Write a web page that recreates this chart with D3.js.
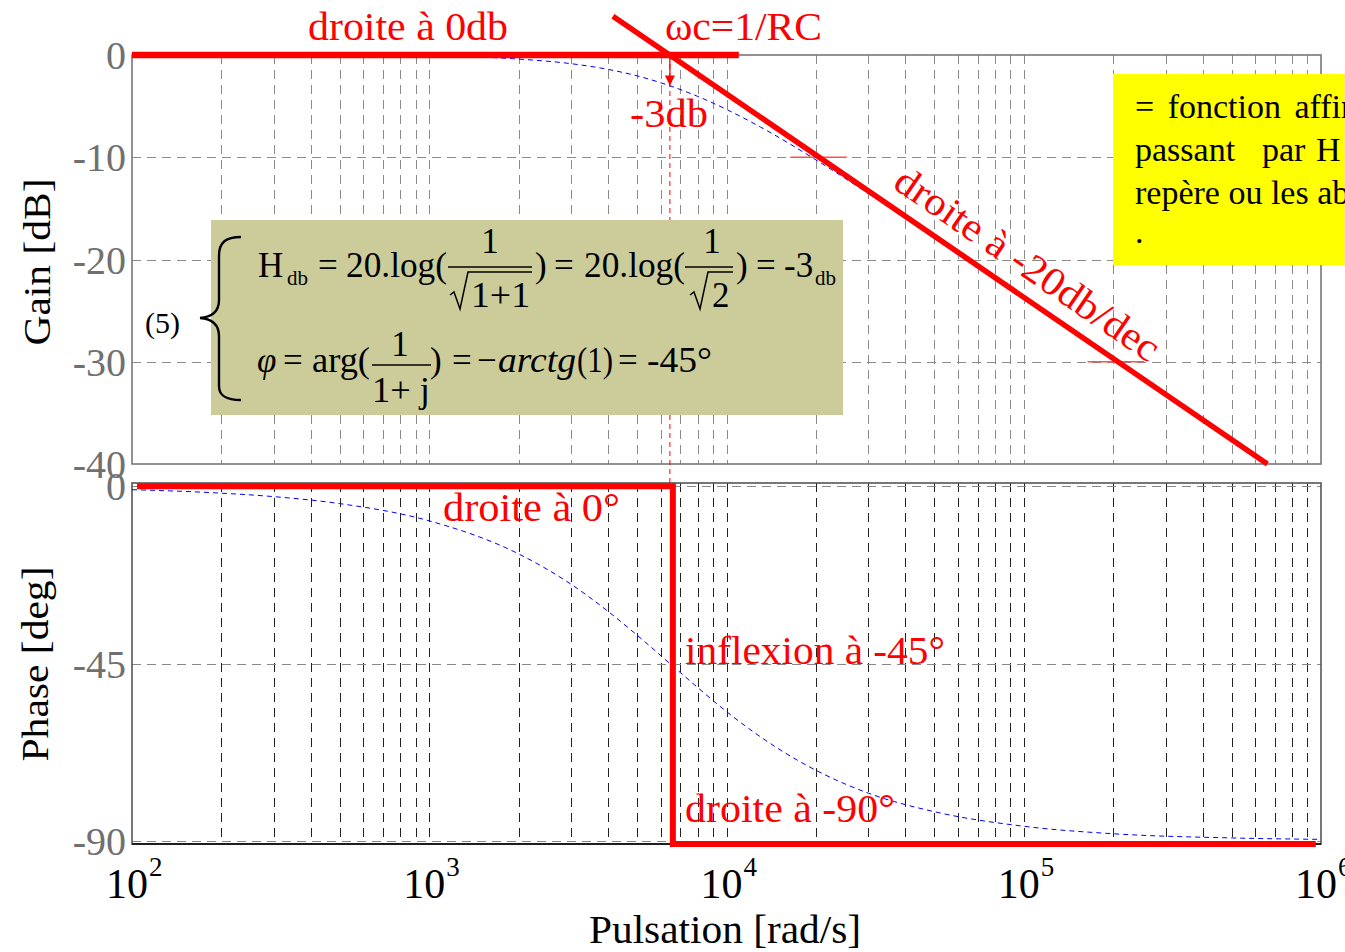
<!DOCTYPE html>
<html><head><meta charset="utf-8">
<script src="https://cdn.jsdelivr.net/npm/d3@7"></script>
<style>body{margin:0;background:#fff;overflow:hidden} svg{display:block} text{font-family:"Liberation Serif","Times New Roman",serif}</style>
</head><body><svg id="c" width="1345" height="952"></svg>
<script>
// ---------- data ----------
const wc = 6450;
const xDecades = [100, 1000, 10000, 100000, 1000000];
const xTickExponents = ["2", "3", "4", "5", "6"];
const gainTicks = [0, -10, -20, -30, -40];
const phaseTicks = [0, -45, -90];
const gainAsym0 = [[100, 0], [11000, 0]];
const gainAsym20 = [[4150, 3.8], [660000, -40]];
const phaseAsym = [[104, 0], [6600, 0], [6600, -90.8], [960000, -90.8]];
const gainCurveW  = [100, 1000, 2000, 3000, 4000, 5000, 6450, 8000, 10000, 13000, 16000, 20000, 30000, 50000, 100000, 200000, 500000, 640000];
const gainCurveDb = [0, -0.1, -0.4, -0.85, -1.41, -2.04, -3.01, -4.05, -5.32, -7.04, -8.54, -10.26, -13.54, -17.86, -23.83, -29.83, -37.79, -39.93];
const phaseCurveW   = [100, 200, 300, 500, 1000, 2000, 3000, 4000, 5000, 6450, 8000, 10000, 15000, 20000, 30000, 50000, 100000, 200000, 500000, 1000000];
const phaseCurveDeg = [-0.89, -1.78, -2.66, -4.43, -8.81, -17.2, -24.9, -31.8, -37.8, -45, -51.1, -57.2, -66.7, -72.1, -77.9, -82.6, -86.3, -88.2, -89.26, -89.63];
const markerW1 = [16400, 164000];
const markerW2 = [25400, 254000];
const markerDb = [-10, -30];

// ---------- scales ----------
const svg = d3.select("#c");
const x = d3.scaleLog().domain([100, 1e6]).range([132, 1321]);
const gy = d3.scaleLinear().domain([0, -40]).range([55, 464]);
const py = d3.scaleLinear().domain([0.8, -90.8]).range([483, 844]);
const crisp = v => Math.round(v) + 0.5;

const gridW = [];
xDecades.slice(0, 4).forEach(d => { for (let k = 1; k < 10; k++) gridW.push(d * k); });
const innerW = gridW.filter(w => w > 100);

// ---------- grids ----------
const g = svg.append("g");
g.selectAll(".gv").data(innerW).enter().append("line")
  .attr("x1", d => crisp(x(d))).attr("x2", d => crisp(x(d))).attr("y1", gy(0)).attr("y2", gy(-40))
  .attr("stroke", "#8a8a8a").attr("stroke-width", 1).attr("stroke-dasharray", "9,6");
g.selectAll(".gh").data(gainTicks.slice(1, 4)).enter().append("line")
  .attr("x1", x(100)).attr("x2", x(1e6)).attr("y1", d => crisp(gy(d))).attr("y2", d => crisp(gy(d)))
  .attr("stroke", "#8a8a8a").attr("stroke-width", 1).attr("stroke-dasharray", "9,6");
g.selectAll(".pv").data(innerW).enter().append("line")
  .attr("x1", d => crisp(x(d))).attr("x2", d => crisp(x(d))).attr("y1", py(0.8)).attr("y2", py(-90.8))
  .attr("stroke", "#222").attr("stroke-width", 1).attr("stroke-dasharray", "9,6");
g.selectAll(".ph").data(phaseTicks).enter().append("line")
  .attr("x1", x(100)).attr("x2", x(1e6)).attr("y1", d => crisp(py(d))).attr("y2", d => crisp(py(d)))
  .attr("stroke", "#888").attr("stroke-width", 1).attr("stroke-dasharray", "9,6");

// frames
svg.append("rect").attr("x", x(100)).attr("y", gy(0)).attr("width", x(1e6) - x(100)).attr("height", gy(-40) - gy(0))
  .attr("fill", "none").attr("stroke", "#777").attr("stroke-width", 1.6);
svg.append("rect").attr("x", x(100)).attr("y", py(0.8)).attr("width", x(1e6) - x(100)).attr("height", py(-90.8) - py(0.8))
  .attr("fill", "none").attr("stroke", "#555").attr("stroke-width", 1.6);
svg.append("line").attr("x1", x(100)).attr("x2", x(1e6)).attr("y1", py(-90.8)).attr("y2", py(-90.8)).attr("stroke", "#000").attr("stroke-width", 1.6);

// red dashed vertical at wc
svg.append("line").attr("x1", x(wc)).attr("x2", x(wc)).attr("y1", gy(0)).attr("y2", py(0.8))
  .attr("stroke", "red").attr("stroke-width", 1).attr("stroke-dasharray", "5,4");
svg.append("line").attr("x1", x(wc)).attr("x2", x(wc)).attr("y1", gy(0)).attr("y2", gy(-2.1))
  .attr("stroke", "red").attr("stroke-width", 1.3);
svg.append("path").attr("d", `M${x(wc) - 5},${gy(-2.0)} L${x(wc) + 5},${gy(-2.0)} L${x(wc)},${gy(-3)} Z`).attr("fill", "red");

// small red markers
markerDb.forEach((db, i) => {
  svg.append("line").attr("x1", x(markerW1[i])).attr("x2", x(markerW2[i])).attr("y1", gy(db)).attr("y2", gy(db))
    .attr("stroke", "#ff5050").attr("stroke-width", 1.5);
});

// ---------- equation box ----------
const eq = svg.append("g");
eq.append("rect").attr("x", 211).attr("y", 220).attr("width", 632).attr("height", 195).attr("fill", "#cccc9a");
eq.append("text").attr("x", 145).attr("y", 333).attr("font-size", 30).text("(5)");
eq.append("path").attr("d", "M241,237 C226,237 219,242 219,256 L219,300 C219,312 212,317 200,318 C212,319 219,324 219,336 L219,386 C219,396 226,400 241,400")
  .attr("fill", "none").attr("stroke", "#000").attr("stroke-width", 2.4);
function t(xp, yp, s, size, opts) {
  const e = eq.append("text").attr("x", xp).attr("y", yp).attr("font-size", size).text(s);
  if (opts && opts.len) e.attr("textLength", opts.len).attr("lengthAdjust", "spacingAndGlyphs");
  if (opts && opts.anchor) e.attr("text-anchor", opts.anchor);
  if (opts && opts.italic) e.attr("font-style", "italic");
  return e;
}
function ln(x1, y1, x2, y2) { eq.append("line").attr("x1", x1).attr("x2", x2).attr("y1", y1).attr("y2", y2).attr("stroke", "#000").attr("stroke-width", 1.5); }
function rad(x0, x1, yTop, yBot) {
  eq.append("path").attr("d", `M${x0},${yBot - 14} L${x0 + 4},${yBot - 17} L${x0 + 10},${yBot} L${x0 + 18},${yTop} L${x1},${yTop}`)
    .attr("fill", "none").attr("stroke", "#000").attr("stroke-width", 1.5);
}
const F = 35, S = 21;
// line 1
t(258, 277, "H", F);
t(287, 285, "db", S);
t(318, 277, "=", F);
t(346, 277, "20.log(", F, {len: 101});
t(490, 253, "1", F, {anchor: "middle"});
ln(448, 267, 532, 267);
rad(450, 532, 272, 309);
t(471, 307, "1+1", F, {len: 59});
t(535, 277, ")", F);
t(554, 277, "=", F);
t(584, 277, "20.log(", F, {len: 101});
t(712, 253, "1", F, {anchor: "middle"});
ln(685, 267, 733, 267);
rad(690, 733, 272, 309);
t(712, 307, "2", F);
t(736, 277, ")", F);
t(756, 277, "=", F);
t(784, 277, "-3", F);
t(815, 285, "db", S);
// line 2
t(257, 372, "φ", F, {italic: true});
t(283, 372, "=", F);
t(312, 372, "arg(", F, {len: 58});
t(400, 356, "1", F, {anchor: "middle"});
ln(372, 365, 431, 365);
t(372, 402, "1+ j", F, {len: 58});
t(430, 372, ")", F);
t(452, 372, "=", F);
t(477, 372, "−", F);
t(498, 372, "arctg", F, {italic: true, len: 78});
t(577, 372, "(1)", F, {len: 36});
t(618, 372, "=", F);
t(647, 372, "-45°", F, {len: 65});

// ---------- yellow box ----------
svg.append("rect").attr("x", 1113).attr("y", 74).attr("width", 240).attr("height", 191).attr("fill", "#ffff00");
const yellowLines = [["= fonction affine", 1135, 118, 5], ["passant", 1135, 161, 0], ["par", 1262, 161, 0], ["H", 1316, 161, 0], ["repère ou les ab", 1135, 204, 0], [".", 1135, 243, 0]];
yellowLines.forEach(d => svg.append("text").attr("x", d[1]).attr("y", d[2]).attr("font-size", 34).attr("word-spacing", d[3]).text(d[0]));

// ---------- curves ----------
const lineG = d3.line().x(d => x(d[0])).y(d => gy(d[1])).curve(d3.curveMonotoneX);
const lineP = d3.line().x(d => x(d[0])).y(d => py(d[1])).curve(d3.curveMonotoneX);
svg.append("path").attr("d", lineG(gainCurveW.map((w, i) => [w, gainCurveDb[i]])))
  .attr("fill", "none").attr("stroke", "#0000ff").attr("stroke-width", 1).attr("stroke-dasharray", "5,4");
svg.append("path").attr("d", lineP(phaseCurveW.map((w, i) => [w, phaseCurveDeg[i]])))
  .attr("fill", "none").attr("stroke", "#0000ff").attr("stroke-width", 1).attr("stroke-dasharray", "5,4");

const lineGs = d3.line().x(d => x(d[0])).y(d => gy(d[1]));
const linePs = d3.line().x(d => x(d[0])).y(d => py(d[1]));
svg.append("path").attr("d", lineGs(gainAsym0)).attr("fill", "none").attr("stroke", "red").attr("stroke-width", 6.5);
svg.append("path").attr("d", lineGs(gainAsym20)).attr("fill", "none").attr("stroke", "red").attr("stroke-width", 5.5);
svg.append("path").attr("d", linePs(phaseAsym)).attr("fill", "none").attr("stroke", "red").attr("stroke-width", 6);

// ---------- axes labels ----------
svg.selectAll(".gt").data(gainTicks).enter().append("text")
  .attr("x", 126).attr("y", d => gy(d) + 14).attr("text-anchor", "end").attr("font-size", 40).attr("fill", "#707070").text(d => d);
svg.selectAll(".pt").data(phaseTicks).enter().append("text")
  .attr("x", 126).attr("y", d => py(d) + 14).attr("text-anchor", "end").attr("font-size", 40).attr("fill", "#707070").text(d => d);
xDecades.forEach((d, i) => {
  svg.append("text").attr("x", x(d) + 16).attr("y", 898).attr("text-anchor", "end").attr("font-size", 42).text("10");
  svg.append("text").attr("x", x(d) + 17).attr("y", 876).attr("font-size", 27).text(xTickExponents[i]);
});
svg.append("text").attr("transform", "translate(50,262) rotate(-90)").attr("text-anchor", "middle").attr("font-size", 38)
  .attr("textLength", 167).attr("lengthAdjust", "spacingAndGlyphs").text("Gain [dB]");
svg.append("text").attr("transform", "translate(48,664) rotate(-90)").attr("text-anchor", "middle").attr("font-size", 38)
  .attr("textLength", 195).attr("lengthAdjust", "spacingAndGlyphs").text("Phase [deg]");
svg.append("text").attr("x", 725).attr("y", 943).attr("text-anchor", "middle").attr("font-size", 40)
  .attr("textLength", 272).attr("lengthAdjust", "spacingAndGlyphs").text("Pulsation [rad/s]");

// ---------- red annotations ----------
function red(xp, yp, s, len) {
  return svg.append("text").attr("x", xp).attr("y", yp).attr("font-size", 40).attr("fill", "red")
    .attr("textLength", len).attr("lengthAdjust", "spacingAndGlyphs").text(s);
}
red(308, 40, "droite à 0db", 200);
red(665, 40, "ωc=1/RC", 157);
red(630, 127, "-3db", 78);
red(443, 521, "droite à 0°", 177);
red(685, 664, "inflexion à -45°", 260);
red(685, 822, "droite à -90°", 210);
const ang = Math.atan2(gy(-40) - gy(3.8), x(660000) - x(4150)) * 180 / Math.PI;
svg.append("text").attr("transform", `translate(1020,275) rotate(${ang})`).attr("text-anchor", "middle")
  .attr("font-size", 40).attr("fill", "red").attr("textLength", 312).attr("lengthAdjust", "spacingAndGlyphs").text("droite à -20db/dec");
</script></body></html>
